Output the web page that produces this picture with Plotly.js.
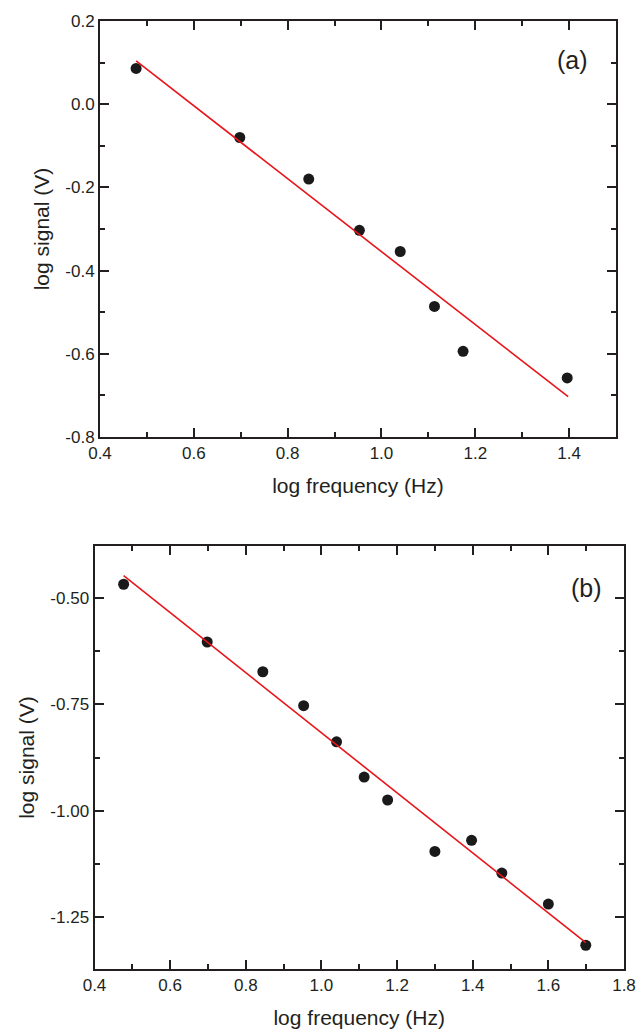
<!DOCTYPE html>
<html>
<head>
<meta charset="utf-8">
<script src="https://cdn.plot.ly/plotly-3.0.1.min.js"></script>
<style>html,body{margin:0;padding:0;background:#fff;}#chart{width:639px;height:1031px;}</style>
</head>
<body>
<div id="chart"></div>
<script>
// Panel (a)
const freqA = [0.477, 0.698, 0.845, 0.953, 1.040, 1.113, 1.174, 1.396];
const signalA = [0.086, -0.080, -0.180, -0.303, -0.354, -0.486, -0.594, -0.658];
const fitXA = [0.477, 1.398];
const fitYA = [0.104, -0.703];
// Panel (b)
const freqB = [0.477, 0.698, 0.845, 0.953, 1.040, 1.113, 1.175, 1.300, 1.397, 1.477, 1.600, 1.699];
const signalB = [-0.467, -0.603, -0.673, -0.753, -0.838, -0.921, -0.975, -1.096, -1.070, -1.147, -1.220, -1.317];
const fitXB = [0.477, 1.699];
const fitYB = [-0.447, -1.311];
// Tick labels (hyphen minus as in the original)
const yTickValsA = [0.2, 0.0, -0.2, -0.4, -0.6, -0.8];
const yTickTextA = ["0.2", "0.0", "-0.2", "-0.4", "-0.6", "-0.8"];
const yTickValsB = [-0.5, -0.75, -1.0, -1.25];
const yTickTextB = ["-0.50", "-0.75", "-1.00", "-1.25"];
const labelA = "(a)";
const labelB = "(b)";
const xTitle = "log frequency (Hz)";
const yTitle = "log signal (V)";

const txt = "#231f20";
const font = "Liberation Sans, Arial, sans-serif";
const markerStyle = {size: 11, color: "#1a1a1a"};
const lineStyle = {color: "#e8151b", width: 1.6};

const traces = [
  {x: freqA, y: signalA, mode: "markers", marker: markerStyle, xaxis: "x", yaxis: "y", showlegend: false},
  {x: fitXA, y: fitYA, mode: "lines", line: lineStyle, xaxis: "x", yaxis: "y", showlegend: false},
  {x: freqB, y: signalB, mode: "markers", marker: markerStyle, xaxis: "x2", yaxis: "y2", showlegend: false},
  {x: fitXB, y: fitYB, mode: "lines", line: lineStyle, xaxis: "x2", yaxis: "y2", showlegend: false}
];

function minor(d) {
  return {ticks: "inside", ticklen: 5, tickwidth: 2, tickcolor: txt, dtick: d, showgrid: false};
}
function axis(extra) {
  return Object.assign({
    showline: true, linewidth: 2, linecolor: txt, mirror: "allticks",
    ticks: "inside", ticklen: 9, tickwidth: 2, tickcolor: txt,
    showgrid: false, zeroline: false, automargin: false,
    tickfont: {family: font, size: 17, color: txt}
  }, extra);
}
const titleFont = {family: font, size: 21, color: txt};

const layout = {
  width: 639, height: 1031,
  margin: {l: 0, r: 0, t: 0, b: 0},
  paper_bgcolor: "#fff", plot_bgcolor: "#fff",
  font: {family: font, color: txt},
  xaxis: axis({domain: [0.1565, 0.964], range: [0.4, 1.5], dtick: 0.2, tick0: 0.4, tickformat: ".1f",
    minor: minor(0.1), anchor: "y", title: {text: xTitle, font: titleFont, standoff: 16}}),
  yaxis: axis({domain: [0.5761, 0.9796], range: [-0.8, 0.2], tickmode: "array",
    tickvals: yTickValsA, ticktext: yTickTextA, minor: minor(0.1), anchor: "x",
    title: {text: yTitle, font: titleFont, standoff: 10}}),
  xaxis2: axis({domain: [0.1479, 0.9765], range: [0.4, 1.8], dtick: 0.2, tick0: 0.4, tickformat: ".1f",
    minor: minor(0.1), anchor: "y2", title: {text: xTitle, font: titleFont, standoff: 16}}),
  yaxis2: axis({domain: [0.0601, 0.4704], range: [-1.373, -0.377], tickmode: "array",
    tickvals: yTickValsB, ticktext: yTickTextB, minor: minor(0.125), anchor: "x2",
    title: {text: yTitle, font: titleFont, standoff: 10}}),
  annotations: [
    {text: labelA, xref: "paper", yref: "paper", x: 572/639, y: 1 - 60/1031, showarrow: false,
      font: {family: font, size: 25, color: txt}, xanchor: "center", yanchor: "middle"},
    {text: labelB, xref: "paper", yref: "paper", x: 586/639, y: 1 - 588/1031, showarrow: false,
      font: {family: font, size: 25, color: txt}, xanchor: "center", yanchor: "middle"}
  ]
};

Plotly.newPlot("chart", traces, layout, {displayModeBar: false, staticPlot: true});
</script>
</body>
</html>
